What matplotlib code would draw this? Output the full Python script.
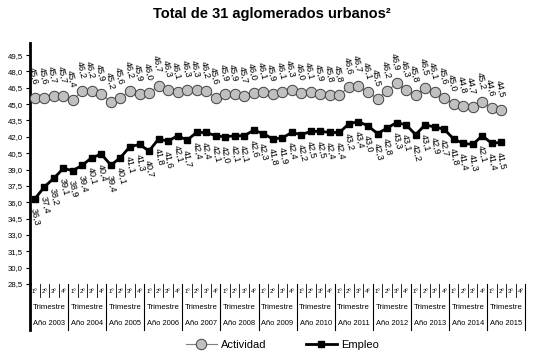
import matplotlib
matplotlib.use('Agg')
import matplotlib.pyplot as plt
import numpy as np
from matplotlib.transforms import blended_transform_factory

plt.rcParams['font.family'] = ['Liberation Sans', 'DejaVu Sans']

years = [str(y) for y in range(2003, 2016)]
quarters = ['1º', '2º', '3º', '4º']
actividad = [45.6, 45.6, 45.7, 45.7, 45.4, 46.2, 46.2, 45.9, 45.2, 45.6,
             46.2, 45.9, 46.0, 46.7, 46.3, 46.1, 46.3, 46.3, 46.2, 45.6,
             45.9, 45.9, 45.7, 46.0, 46.1, 45.9, 46.1, 46.3, 46.0, 46.1,
             45.9, 45.8, 45.8, 46.6, 46.7, 46.1, 45.5, 46.2, 46.9, 46.3,
             45.8, 46.5, 46.1, 45.6, 45.0, 44.8, 44.7, 45.2, 44.6, 44.5]
empleo = [36.3, 37.4, 38.2, 39.1, 38.9, 39.4, 40.1, 40.4, 39.4, 40.1,
          41.1, 41.3, 40.7, 41.8, 41.6, 42.1, 41.7, 42.4, 42.4, 42.1,
          42.0, 42.1, 42.1, 42.6, 42.3, 41.8, 41.9, 42.4, 42.2, 42.5,
          42.5, 42.4, 42.4, 43.2, 43.4, 43.0, 42.3, 42.8, 43.3, 43.1,
          42.2, 43.1, 42.9, 42.7, 41.8, 41.4, 41.3, 42.1, 41.4, 41.5]
yticks = np.arange(28.5, 49.6, 1.5)

fig = plt.figure(figsize=(5.38, 3.62), dpi=100)
ax = fig.add_axes([0.0558, 0.2155, 0.9202, 0.6655])

x = np.arange(len(actividad))
ax.plot(x, actividad, color='#7f7f7f', lw=0.8, marker='o', ms=7.5,
        mfc='#c0c0c0', mec='#404040', mew=0.7, label='Actividad', zorder=3)
ax.plot(x, empleo, color='black', lw=2, marker='s', ms=5,
        mfc='black', mec='black', label='Empleo', zorder=3)

def fmt(v):
    return f"{v:.1f}".replace('.', ',')

for xi, v in zip(x, actividad):
    ax.annotate(fmt(v), (xi, v), xytext=(0.5, 9), textcoords='offset points',
                rotation=-78, rotation_mode='anchor', ha='right', va='center',
                fontsize=6.6, annotation_clip=False)
for xi, v in zip(x, empleo):
    ax.annotate(fmt(v), (xi, v), xytext=(-1, -7), textcoords='offset points',
                rotation=-78, rotation_mode='anchor', ha='left', va='center',
                fontsize=6.6, annotation_clip=False)

ax.set_xlim(-0.5, 51.5)
ax.set_ylim(28.5, 50.6)
ax.set_yticks(yticks)
ax.set_yticklabels([fmt(t) for t in yticks], fontsize=5.6)
ax.set_xticks([])
for s in ['top', 'right', 'bottom']:
    ax.spines[s].set_visible(False)
ax.spines['left'].set_linewidth(2)
ax.tick_params(axis='y', length=3, width=0.8, pad=2)

# category table below the axis
tr = blended_transform_factory(ax.transData, ax.transAxes)
for i in range(52):
    ax.text(i, -0.033, quarters[i % 4], transform=tr, ha='center', va='center',
            fontsize=4.3, clip_on=False)
for b in range(1, 52):
    if b % 4 == 0:
        ax.plot([b - 0.5, b - 0.5], [0, -0.19], transform=tr, color='black',
                lw=0.8, clip_on=False)
    else:
        ax.plot([b - 0.5, b - 0.5], [0, -0.055], transform=tr, color='black',
                lw=0.6, clip_on=False)
ax.plot([51.5, 51.5], [0, -0.19], transform=tr, color='black', lw=0.8, clip_on=False)
ax.plot([-0.5, -0.5], [0, -0.19], transform=tr, color='black', lw=2, clip_on=False)
for j, yr in enumerate(years):
    c = j * 4 + 1.5
    ax.text(c, -0.0996, 'Trimestre', transform=tr, ha='center', va='center',
            fontsize=5.6, clip_on=False)
    ax.text(c, -0.166, 'Año ' + yr, transform=tr, ha='center', va='center',
            fontsize=5.4, clip_on=False)

fig.text(0.505, 0.962, 'Total de 31 aglomerados urbanos²', ha='center', va='center',
         fontsize=10.5, fontweight='bold')

fig.legend(loc='center', bbox_to_anchor=(0.525, 0.047), ncol=2, frameon=False,
           fontsize=8, handlelength=2.8, columnspacing=3.5, handletextpad=0.4)

fig.savefig('out.png', dpi=100)
